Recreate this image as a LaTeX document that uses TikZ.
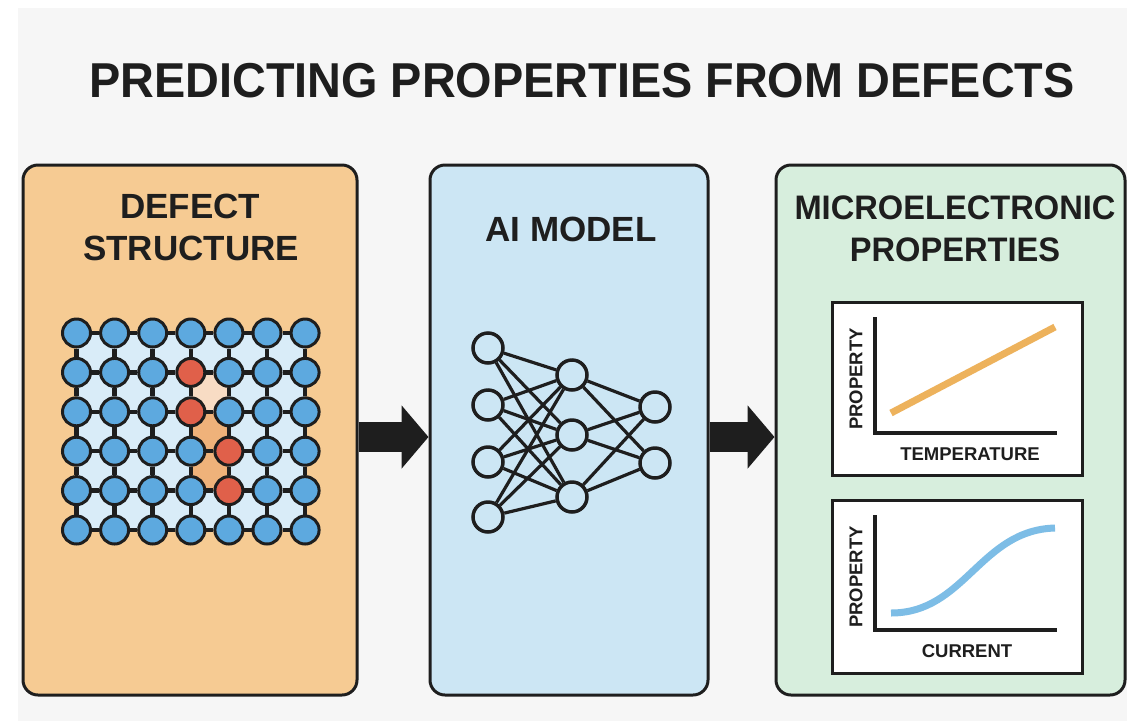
\documentclass[tikz,border=0pt]{standalone}
\usepackage{fontspec}
\setmainfont{Liberation Sans}
\usetikzlibrary{arrows.meta}
\definecolor{pagebg}{HTML}{F6F6F6}
\definecolor{ink}{HTML}{1E1E1E}
\definecolor{panelorange}{HTML}{F6CB93}
\definecolor{panelblue}{HTML}{CCE6F4}
\definecolor{panelgreen}{HTML}{D7EEDD}
\definecolor{atomblue}{HTML}{5DA9DF}
\definecolor{atomred}{HTML}{E0604A}
\definecolor{cellblue}{HTML}{D9ECF8}
\definecolor{cellpeach}{HTML}{F8DCC4}
\definecolor{cellorange}{HTML}{EFB27A}
\definecolor{lineorange}{HTML}{EDB25C}
\definecolor{lineblue}{HTML}{7DBDE6}
\tikzset{
  panel/.style={draw=ink, line width=3pt, rounded corners=15pt, inner sep=0pt},
  heading/.style={text=ink, font=\fontsize{35}{40}\selectfont\bfseries, anchor=base, inner sep=0pt},
  atom/.style={circle, draw=ink, line width=3pt, minimum size=28pt, inner sep=0pt},
  bond/.style={draw=ink, line width=4.5pt},
  neuron/.style={circle, draw=ink, line width=3.5pt, fill=panelblue, minimum size=30pt, inner sep=0pt},
  synapse/.style={draw=ink, line width=3.2pt},
  plotbox/.style={draw=ink, line width=3pt, fill=white, inner sep=0pt},
  axislabel/.style={text=ink, font=\fontsize{18.5}{22}\selectfont\bfseries, inner sep=0pt},
  bigarrow/.style={draw=ink, line width=30pt, -{Triangle[length=27pt,width=62pt]}},
}
\begin{document}
\begin{tikzpicture}[x=1pt,y=-1pt]
\useasboundingbox (0,0) rectangle (1127,721);
\fill[white] (0,0) rectangle (1127,721);
\fill[pagebg] (18,8) rectangle (1127,721);

% title
\node[text=ink, font=\fontsize{49}{56}\selectfont\bfseries, anchor=base, inner sep=0pt, xscale=0.955] (title) at (582,97) {PREDICTING PROPERTIES FROM DEFECTS};

% panels
\node[panel, fill=panelorange, minimum width=334, minimum height=530] (p1) at (190,430) {};
\node[panel, fill=panelblue, minimum width=278, minimum height=530] (p2) at (569,430) {};
\node[panel, fill=panelgreen, minimum width=349, minimum height=530] (p3) at (950.5,430) {};

% headings
\node[heading] (h1a) at (190,218) {DEFECT};
\node[heading] (h1b) at (191,260) {STRUCTURE};
\node[heading] (h2) at (571,241) {AI MODEL};
\node[heading, font=\fontsize{34}{40}\selectfont\bfseries, xscale=0.96] (h3a) at (955,219) {MICROELECTRONIC};
\node[heading, font=\fontsize{34}{40}\selectfont\bfseries, xscale=0.96] (h3b) at (955,261) {PROPERTIES};

% arrows
\draw[bigarrow] (p1.east |- 0,437) -- (p2.west |- 0,437);
\draw[bigarrow] (p2.east |- 0,437) -- (p3.west |- 0,437);

% lattice cells
\fill[cellblue] (76.5,333) rectangle (305.1,530);
\fill[cellpeach] (190.8,372.4) rectangle (228.9,411.8);
\fill[cellorange] (190.8,411.8) rectangle (228.9,490.6);

% lattice atoms
\foreach \i in {0,...,6}{
  \foreach \j in {0,...,5}{
    \pgfmathtruncatemacro\isred{((\i==3)&&((\j==1)||(\j==2)))||((\i==4)&&((\j==3)||(\j==4)))}
    \ifnum\isred=1
      \node[atom, fill=atomred] (a-\i-\j) at ({76.5+38.1*\i},{333+39.4*\j}) {};
    \else
      \node[atom, fill=atomblue] (a-\i-\j) at ({76.5+38.1*\i},{333+39.4*\j}) {};
    \fi
  }
}
% bonds
\foreach \i [count=\n from 1] in {0,...,5}{
  \foreach \j in {0,...,5}{
    \draw[bond] (a-\i-\j) -- (a-\n-\j);
  }
}
\foreach \j [count=\n from 1] in {0,...,4}{
  \foreach \i in {0,...,6}{
    \draw[bond] (a-\i-\j) -- (a-\i-\n);
  }
}

% neural network
\node[neuron] (in1) at (488,348) {};
\node[neuron] (in2) at (488,405) {};
\node[neuron] (in3) at (488,462) {};
\node[neuron] (in4) at (488,517) {};
\node[neuron] (hd1) at (572,375) {};
\node[neuron] (hd2) at (572,435) {};
\node[neuron] (hd3) at (572,497) {};
\node[neuron] (out1) at (655,407) {};
\node[neuron] (out2) at (655,463) {};
\foreach \a in {in1,in2,in3,in4}{
  \foreach \b in {hd1,hd2,hd3}{
    \draw[synapse] (\a) -- (\b);
  }
}
\foreach \a in {hd1,hd2,hd3}{
  \foreach \b in {out1,out2}{
    \draw[synapse] (\a) -- (\b);
  }
}

% plot 1
\node[plotbox, minimum width=250, minimum height=173] (g1) at (957,388.5) {};
\draw[ink, line width=4pt] (875,317) -- (875,433) -- (1057,433);
\draw[lineorange, line width=7pt] (891,413) -- (1055,327);
\node[axislabel, rotate=90] (g1y) at (856,379) {PROPERTY};
\node[axislabel, anchor=base] (g1x) at (970,460) {TEMPERATURE};

% plot 2
\node[plotbox, minimum width=250, minimum height=173] (g2) at (957,586.5) {};
\draw[ink, line width=4pt] (875,515) -- (875,630) -- (1057,630);
\draw[lineblue, line width=7pt] (891,613) .. controls (965,613) and (980,530) .. (1055,528);
\node[axislabel, rotate=90] (g2y) at (856,577) {PROPERTY};
\node[axislabel, anchor=base] (g2x) at (967,657) {CURRENT};
\end{tikzpicture}
\end{document}
